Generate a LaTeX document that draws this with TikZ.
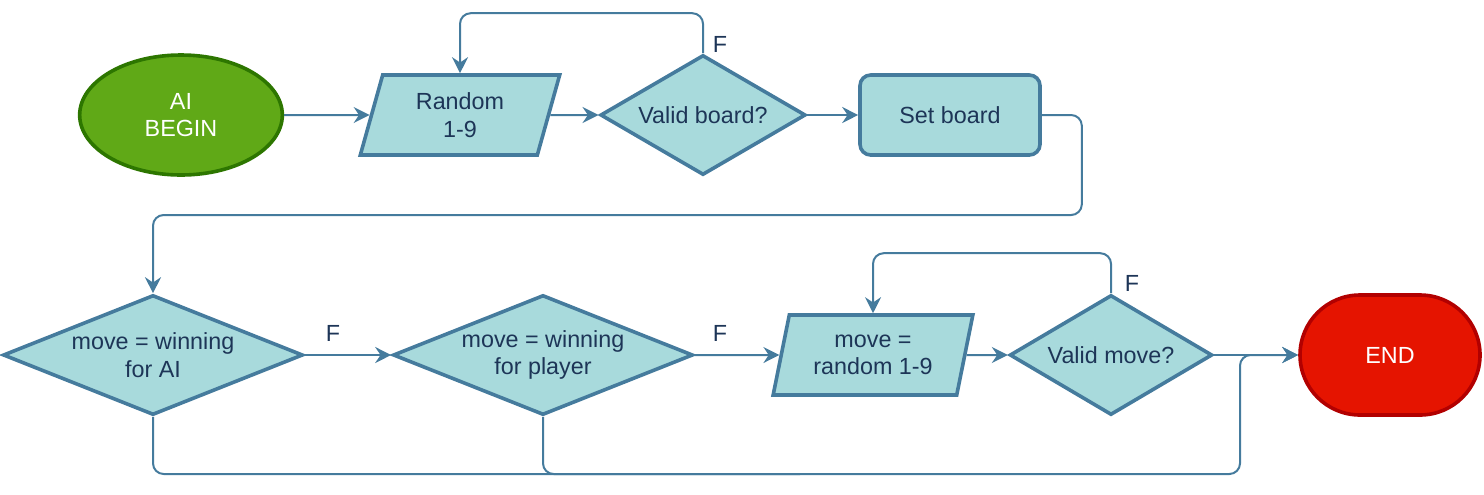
\documentclass[tikz,border=0pt]{standalone}
\usepackage{fontspec}
\setmainfont{Liberation Sans}
\usetikzlibrary{shapes.geometric,shapes.misc,arrows.meta}
\definecolor{tfill}{HTML}{A8DADC}
\definecolor{tline}{HTML}{457B9D}
\definecolor{ttext}{HTML}{1D3557}
\definecolor{gfill}{HTML}{60A917}
\definecolor{gline}{HTML}{2D7600}
\definecolor{rfill}{HTML}{E51400}
\definecolor{rline}{HTML}{B20000}
\begin{document}
\begin{tikzpicture}[x=0.75pt,y=-0.75pt,
  txt/.style={font=\fontsize{17.5}{20.5}\selectfont, align=center},
  base/.style={txt, draw=tline, fill=tfill, line width=2.7pt, text=ttext, inner sep=0pt},
  decision/.style={base, diamond, minimum width=#1, minimum height=90pt},
  dtext/.style={txt, text=ttext, inner sep=0pt},
  iobox/.style={base, trapezium, trapezium left angle=74, trapezium right angle=106,
     trapezium stretches=true, minimum width=150pt, minimum height=60pt},
  procbox/.style={base, rectangle, rounded corners=8pt, minimum width=135pt, minimum height=60pt},
  startnode/.style={txt, ellipse, draw=gline, fill=gfill, text=white, line width=2.7pt,
     minimum width=152pt, minimum height=90pt, inner sep=0pt},
  endnode/.style={txt, rounded rectangle, draw=rline, fill=rfill, text=white, line width=2.7pt,
     minimum width=135pt, minimum height=90pt, inner sep=0pt},
  conn/.style={draw=tline, line width=1.5pt, rounded corners=8pt,
     -{Stealth[length=12pt,width=12pt,inset=4pt]}},
  plain/.style={draw=tline, line width=1.5pt, rounded corners=8pt},
  flabel/.style={txt, text=ttext, inner sep=0pt}
]
\useasboundingbox (0,0) rectangle (1484,494);

\node[startnode] (begin) at (181,115) {AI\\BEGIN};
\node[iobox] (rand) at (460,115) {Random\\1-9};
\node[decision=154pt, label={[dtext]center:Valid board?}] (vb) at (703,115) {};
\node[procbox] (sb) at (950,115) {Set board};

\node[decision=225pt, label={[dtext]center:{move = winning\\for AI}}] (d1) at (153,355) {};
\node[decision=225pt, label={[dtext]center:{move = winning\\for player}}] (d2) at (543,355) {};
\node[iobox] (rnd2) at (873,355) {move =\\random 1-9};
\node[decision=152pt, label={[dtext]center:Valid move?}] (vm) at (1111,355) {};
\node[endnode] (end) at (1390,355) {END};

\node[flabel] (f1) at (720,44) {F};
\node[flabel] (f2) at (333,333) {F};
\node[flabel] (f3) at (720,333) {F};
\node[flabel] (f4) at (1132,283) {F};

\draw[conn] (begin) -- (rand);
\draw[conn] (rand) -- (vb);
\draw[conn] (vb.north) -- ++(0,-40) -| (rand);
\draw[conn] (vb) -- (sb);
\draw[conn] (sb.east) -- ++(40,0) |- (d1.north |- 0,215) -- (d1.north);
\draw[conn] (d1) -- (d2);
\draw[conn] (d2) -- (rnd2);
\draw[conn] (rnd2) -- (vm);
\draw[conn] (vm.north) -- ++(0,-40) -| (rnd2);
\draw[conn] (vm) -- (end);
\draw[conn] (d1.south) |- (1240,474) |- (end.west);
\draw[plain] (d2.south) |- (800,474);
\end{tikzpicture}
\end{document}
